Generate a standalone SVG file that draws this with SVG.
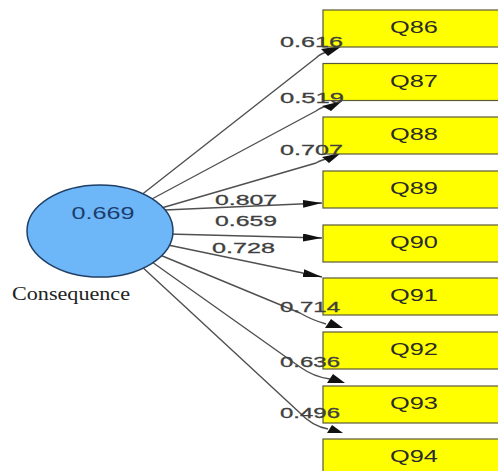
<svg xmlns="http://www.w3.org/2000/svg" width="498" height="471" viewBox="0 0 498 471">
<style>
.box{fill:#ffff00;stroke:#5a5a3a;stroke-width:1.2}
.ql{font-family:"Liberation Sans",Arial,sans-serif;font-size:17px;fill:#2a2a2a;text-anchor:middle}
.el{font-family:"Liberation Sans",Arial,sans-serif;font-size:15px;fill:#404040;stroke:#404040;stroke-width:0.3}
.edge{fill:none;stroke:#505050;stroke-width:1.4}
.ah{fill:#111}
</style>
<defs>
<marker id="arr" markerUnits="userSpaceOnUse" markerWidth="20" markerHeight="9" refX="19" refY="4" orient="auto">
<path d="M0,0 L19,4 L0,8 z" fill="#111"/>
</marker>
</defs>
<rect width="498" height="471" fill="#fff"/>
<g id="connectors">
<path class="edge" d="M140,196 L316,58 Q321,53 330,51"/>
<path class="edge" d="M150,200 L316,111 Q321,107 331,105"/>
<path class="edge" d="M158,209 L316,163 Q321,160 330,158"/>
<path class="edge" d="M165,210 L322,203" marker-end="url(#arr)"/>
<path class="edge" d="M168,234 L322,238" marker-end="url(#arr)"/>
<path class="edge" d="M168,245 L322,277" marker-end="url(#arr)"/>
<path class="edge" d="M160,255 L300,313 Q312,320 326,324"/>
<path class="edge" d="M152,262 L300,367 Q314,377 330,379"/>
<path class="edge" d="M140,265 L300,413 Q312,426 328,429"/>
<polygon class="ah" points="321,49 342,46 328,56"/>
<polygon class="ah" points="322,106 342,101 331,111"/>
<polygon class="ah" points="322,157 341,153 329,163"/>
<polygon class="ah" points="325,328 343,328 331,319"/>
<polygon class="ah" points="327,383 345,383 333,374"/>
<polygon class="ah" points="327,433 343,433 332,425"/>
</g>
<g id="Consequence">
<ellipse cx="100" cy="231" rx="73" ry="46" fill="#6db6f7" stroke="#1f3f66" stroke-width="1.5"/>
<text x="103" y="219" font-family="'Liberation Sans',Arial,sans-serif" font-size="16" fill="#1c3d6e" text-anchor="middle" textLength="63" lengthAdjust="spacingAndGlyphs">0.669</text>
<text x="12" y="300" font-family="'Liberation Serif','Times New Roman',serif" font-size="18" fill="#222" textLength="118" lengthAdjust="spacingAndGlyphs">Consequence</text>
</g>
<g id="Q86"><rect class="box" x="323" y="10" width="180" height="37"/><text class="ql" x="414" y="33" textLength="48" lengthAdjust="spacingAndGlyphs">Q86</text></g>
<g id="Q87"><rect class="box" x="323" y="63.5" width="180" height="37"/><text class="ql" x="414" y="86.5" textLength="48" lengthAdjust="spacingAndGlyphs">Q87</text></g>
<g id="Q88"><rect class="box" x="323" y="117" width="180" height="37"/><text class="ql" x="414" y="140" textLength="48" lengthAdjust="spacingAndGlyphs">Q88</text></g>
<g id="Q89"><rect class="box" x="323" y="171" width="180" height="37"/><text class="ql" x="414" y="194" textLength="48" lengthAdjust="spacingAndGlyphs">Q89</text></g>
<g id="Q90"><rect class="box" x="323" y="225" width="180" height="37"/><text class="ql" x="414" y="248" textLength="48" lengthAdjust="spacingAndGlyphs">Q90</text></g>
<g id="Q91"><rect class="box" x="323" y="278" width="180" height="37"/><text class="ql" x="414" y="301" textLength="48" lengthAdjust="spacingAndGlyphs">Q91</text></g>
<g id="Q92"><rect class="box" x="323" y="332" width="180" height="37"/><text class="ql" x="414" y="355" textLength="48" lengthAdjust="spacingAndGlyphs">Q92</text></g>
<g id="Q93"><rect class="box" x="323" y="386" width="180" height="37"/><text class="ql" x="414" y="409" textLength="48" lengthAdjust="spacingAndGlyphs">Q93</text></g>
<g id="Q94"><rect class="box" x="323" y="439" width="180" height="37"/><text class="ql" x="414" y="462" textLength="48" lengthAdjust="spacingAndGlyphs">Q94</text></g>
<g id="edge-labels">
<text class="el" x="280" y="47" textLength="63" lengthAdjust="spacingAndGlyphs">0.616</text>
<text class="el" x="280" y="103" textLength="64" lengthAdjust="spacingAndGlyphs">0.519</text>
<text class="el" x="280" y="155" textLength="63" lengthAdjust="spacingAndGlyphs">0.707</text>
<text class="el" x="215" y="205" textLength="62" lengthAdjust="spacingAndGlyphs">0.807</text>
<text class="el" x="215" y="226" textLength="62" lengthAdjust="spacingAndGlyphs">0.659</text>
<text class="el" x="212" y="253" textLength="63" lengthAdjust="spacingAndGlyphs">0.728</text>
<text class="el" x="280" y="312" textLength="60" lengthAdjust="spacingAndGlyphs">0.714</text>
<text class="el" x="280" y="367" textLength="60" lengthAdjust="spacingAndGlyphs">0.636</text>
<text class="el" x="280" y="418" textLength="60" lengthAdjust="spacingAndGlyphs">0.496</text>
</g>
</svg>
